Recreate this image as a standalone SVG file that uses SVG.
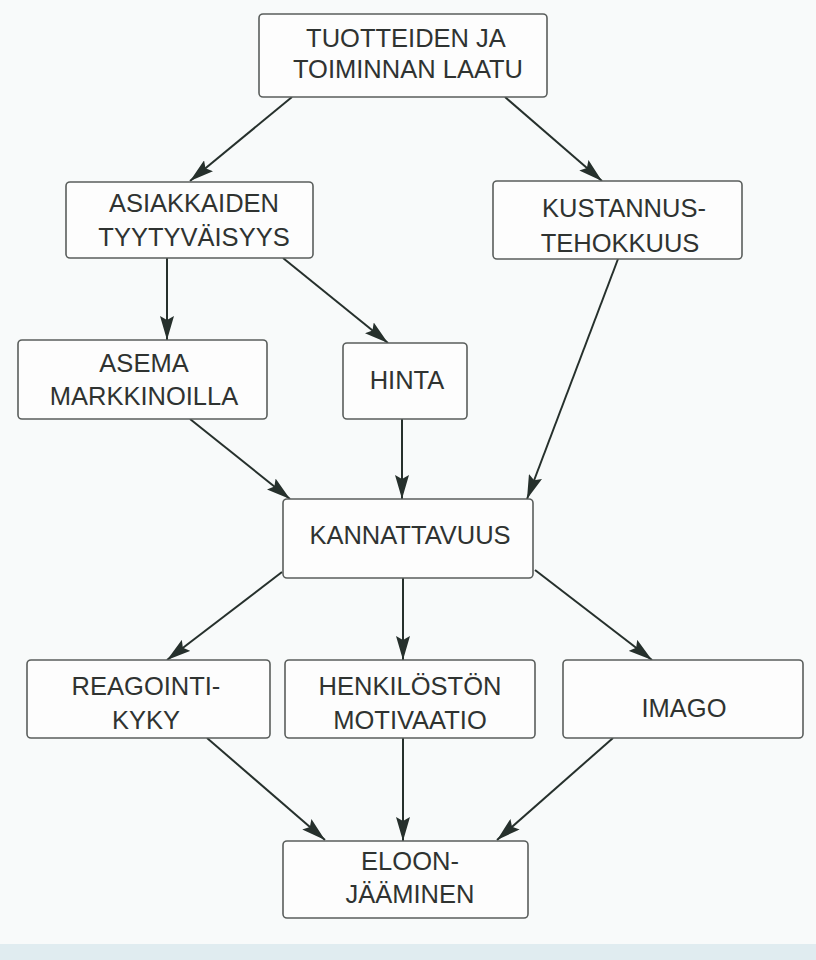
<svg xmlns="http://www.w3.org/2000/svg" width="816" height="960" viewBox="0 0 816 960">
<defs>
<marker id="ah" markerUnits="userSpaceOnUse" markerWidth="25" markerHeight="14" refX="24" refY="7" orient="auto">
<path d="M0,0 L24,7 L0,14 L4,7 z" fill="#26302c"/>
</marker>
<style>
.box{fill:#fdfdfd;stroke:#5a5e5c;stroke-width:1.6}
.t{font-family:"Liberation Sans",Arial,sans-serif;font-size:25.5px;fill:#2f3331;text-anchor:middle}
.c{stroke:#26302c;stroke-width:2;fill:none;marker-end:url(#ah)}
</style>
</defs>
<rect x="0" y="0" width="816" height="960" fill="#f8fafa"/>
<rect x="0" y="944" width="816" height="16" fill="#e0ecf0"/>
<g id="connectors">
<line class="c" x1="292" y1="97" x2="190" y2="181"/>
<line class="c" x1="505" y1="97" x2="602" y2="181"/>
<line class="c" x1="167" y1="258" x2="167" y2="340"/>
<line class="c" x1="283" y1="258" x2="388" y2="343"/>
<line class="c" x1="618" y1="259" x2="527" y2="499"/>
<line class="c" x1="190" y1="419" x2="290" y2="499"/>
<line class="c" x1="402" y1="419" x2="402" y2="499"/>
<line class="c" x1="282" y1="572" x2="167" y2="660"/>
<line class="c" x1="403" y1="578" x2="403" y2="660"/>
<line class="c" x1="535" y1="570" x2="652" y2="660"/>
<line class="c" x1="207" y1="738" x2="325" y2="840"/>
<line class="c" x1="403" y1="738" x2="403" y2="841"/>
<line class="c" x1="613" y1="738" x2="497" y2="840"/>
</g>
<g id="n-laatu">
<rect class="box" x="259" y="14" width="288" height="83" rx="4"/>
<text class="t" x="406" y="47">TUOTTEIDEN JA</text>
<text class="t" x="408" y="78">TOIMINNAN LAATU</text>
</g>
<g id="n-asiakkaiden">
<rect class="box" x="66" y="182" width="247" height="76" rx="4"/>
<text class="t" x="194" y="212">ASIAKKAIDEN</text>
<text class="t" x="194" y="246">TYYTYVÄISYYS</text>
</g>
<g id="n-kustannus">
<rect class="box" x="493" y="181" width="249" height="78" rx="4"/>
<text class="t" x="624" y="217">KUSTANNUS-</text>
<text class="t" x="620" y="252">TEHOKKUUS</text>
</g>
<g id="n-asema">
<rect class="box" x="18" y="340" width="249" height="79" rx="4"/>
<text class="t" x="144" y="372">ASEMA</text>
<text class="t" x="144" y="405">MARKKINOILLA</text>
</g>
<g id="n-hinta">
<rect class="box" x="343" y="343" width="124" height="76" rx="4"/>
<text class="t" x="407" y="389">HINTA</text>
</g>
<g id="n-kannattavuus">
<rect class="box" x="283" y="499" width="250" height="79" rx="4"/>
<text class="t" x="410" y="544">KANNATTAVUUS</text>
</g>
<g id="n-reagointi">
<rect class="box" x="27" y="660" width="243" height="78" rx="4"/>
<text class="t" x="146" y="695">REAGOINTI-</text>
<text class="t" x="146" y="729">KYKY</text>
</g>
<g id="n-henkiloston">
<rect class="box" x="285" y="660" width="250" height="78" rx="4"/>
<text class="t" x="410" y="695">HENKILÖSTÖN</text>
<text class="t" x="410" y="729">MOTIVAATIO</text>
</g>
<g id="n-imago">
<rect class="box" x="563" y="660" width="240" height="78" rx="4"/>
<text class="t" x="684" y="717">IMAGO</text>
</g>
<g id="n-eloon">
<rect class="box" x="283" y="841" width="245" height="77" rx="4"/>
<text class="t" x="410" y="870">ELOON-</text>
<text class="t" x="410" y="903">JÄÄMINEN</text>
</g>
</svg>
